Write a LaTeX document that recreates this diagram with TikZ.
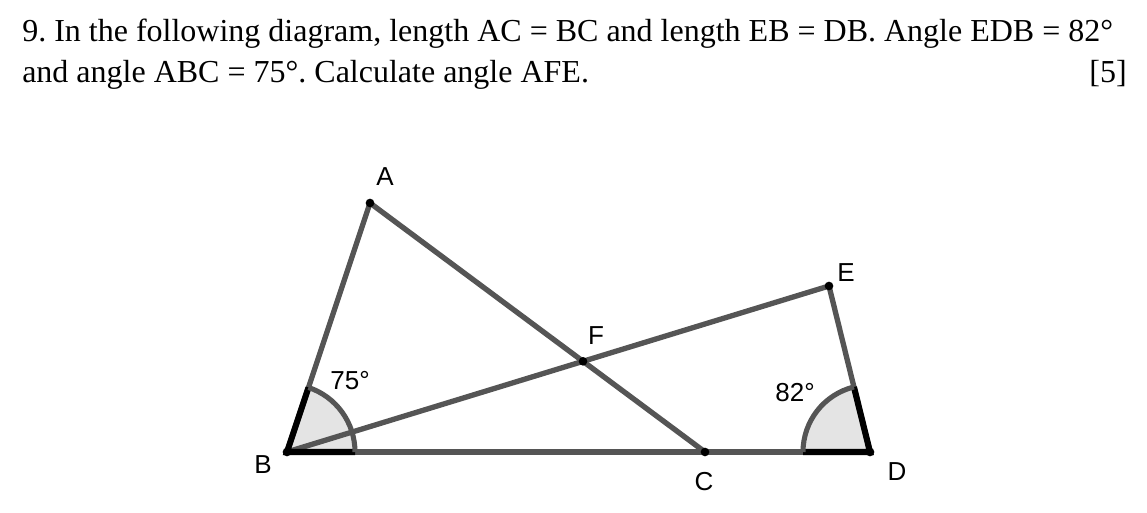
\documentclass[tikz,border=0pt]{standalone}
\usepackage{fontspec}
\setmainfont{Liberation Serif}
\newfontfamily\lblfont{Liberation Sans}
\usepackage{tikz}
\usepackage{xcolor}
\usetikzlibrary{calc}
\definecolor{segcol}{HTML}{555555}
\definecolor{shadecol}{HTML}{E4E4E4}
\tikzstyle{seg} = [draw=segcol, line width=4pt]
\tikzstyle{armseg} = [draw=black, line width=4.6pt]
\tikzstyle{arcline} = [draw=segcol, line width=3.8pt]
\tikzstyle{dot} = [circle, fill=black, inner sep=0pt, minimum size=6.5pt]
\tikzstyle{lbl} = [font=\lblfont\fontsize{19.5}{22}\selectfont, inner sep=0pt]
\tikzstyle{qtext} = [font=\fontsize{24}{28}\selectfont, inner sep=0pt]
\frenchspacing

\begin{document}
\begin{tikzpicture}[x=0.75pt, y=0.75pt]
        \useasboundingbox (0,0) rectangle (1147,513);

        % question text
        \node (line1) [qtext, anchor=base west] at (22,471) {9. In the following diagram, length AC = BC and length EB = DB. Angle EDB = 82°};
        \node (line2) [qtext, anchor=base west] at (22,430) {and angle ABC = 75°. Calculate angle AFE.};
        \node (marks) [qtext, anchor=base east] at (1127,430) {[5]};

        % points
        \coordinate (B) at (287,61);
        \coordinate (C) at (705,61);
        \coordinate (D) at (870,61);
        \coordinate (A) at (370,310);
        \coordinate (E) at (829,227);
        \coordinate (F) at (intersection of A--C and B--E);

        % shaded angles
        \fill [shadecol] (B) -- ++(0:68) arc[start angle=0, end angle=71.6, radius=68] -- cycle;
        \fill [shadecol] (D) -- ++(180:67) arc[start angle=180, end angle=103.9, radius=67] -- cycle;

        % sides
        \draw [seg] (B) -- (A);
        \draw [seg] (A) -- (C);
        \draw [seg] (B) -- (D);
        \draw [seg] (B) -- (E);
        \draw [seg] (E) -- (D);

        % angle marks
        \draw [armseg] ($(B)!51pt!(A)$) -- (B) -- ++(0:68);
        \draw [arcline] (B) ++(0:68) arc[start angle=0, end angle=71.6, radius=68];
        \draw [armseg] ($(D)!50.25pt!(E)$) -- (D) -- ++(180:67);
        \draw [arcline] (D) ++(180:67) arc[start angle=180, end angle=103.9, radius=67];

        % dots
        \foreach \p in {A,B,C,D,E,F}
            \node (dot\p) [dot] at (\p) {};

        % labels
        \node (labA) [lbl] at (385,336) {A};
        \node (labB) [lbl] at (263,48) {B};
        \node (labC) [lbl] at (704,31) {C};
        \node (labD) [lbl] at (897,41) {D};
        \node (labE) [lbl] at (846,240) {E};
        \node (labF) [lbl] at (596,177) {F};
        \node (angB) [lbl] at (350,132) {75°};
        \node (angD) [lbl] at (795,120) {82°};
    \end{tikzpicture}
\end{document}
